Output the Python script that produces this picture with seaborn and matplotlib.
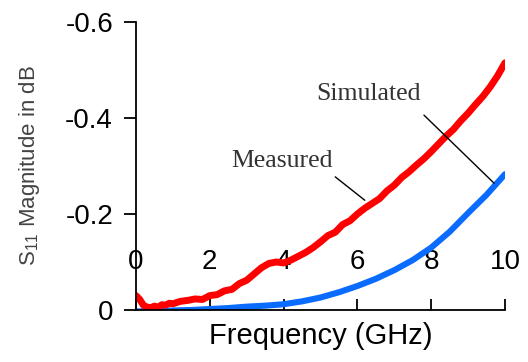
import pandas as pd
import matplotlib.pyplot as plt
import seaborn as sns

# valores (magnitud S11 en dB, eje invertido)
freq_meas = [0.0, 0.1, 0.2, 0.3, 0.4, 0.5, 0.6, 0.7, 0.8, 0.9, 1.0, 1.2, 1.4, 1.6, 1.8,
             2.0, 2.2, 2.4, 2.6, 2.8, 3.0, 3.2, 3.4, 3.6, 3.8, 4.0, 4.2, 4.4, 4.6, 4.8,
             5.0, 5.2, 5.4, 5.6, 5.8, 6.0, 6.2, 6.4, 6.6, 6.8, 7.0, 7.2, 7.4, 7.6, 7.8,
             8.0, 8.2, 8.4, 8.6, 8.8, 9.0, 9.2, 9.4, 9.6, 9.8, 10.0]
s11_meas = [-0.03, -0.022, -0.01, -0.006, -0.005, -0.008, -0.006, -0.011, -0.01, -0.014,
            -0.013, -0.018, -0.02, -0.023, -0.022, -0.03, -0.032, -0.04, -0.043, -0.055,
            -0.062, -0.075, -0.088, -0.097, -0.1, -0.098, -0.104, -0.112, -0.12, -0.13,
            -0.142, -0.155, -0.162, -0.178, -0.186, -0.2, -0.212, -0.222, -0.232, -0.248,
            -0.26, -0.276, -0.288, -0.302, -0.315, -0.33, -0.346, -0.362, -0.376, -0.394,
            -0.41, -0.428, -0.445, -0.465, -0.488, -0.515]

freq_sim = [0, 0.5, 1.0, 1.5, 2.0, 2.5, 3.0, 3.5, 4.0, 4.5, 5.0, 5.5, 6.0, 6.5, 7.0,
            7.5, 8.0, 8.5, 9.0, 9.5, 10.0]
s11_sim = [0.003, 0.002, 0.001, 0.0, -0.002, -0.004, -0.007, -0.009, -0.012, -0.018,
           -0.026, -0.037, -0.05, -0.065, -0.083, -0.104, -0.13, -0.163, -0.202, -0.24,
           -0.283]

x_ticks = [0, 2, 4, 6, 8, 10]
y_ticks = [0, -0.2, -0.4, -0.6]
y_labels = ['0', '-0.2', '-0.4', '-0.6']

sns.set_style('ticks')
plt.rcParams['font.family'] = ['Liberation Sans', 'DejaVu Sans']
plt.rcParams['mathtext.fontset'] = 'custom'
plt.rcParams['mathtext.rm'] = 'Liberation Sans'
plt.rcParams['axes.unicode_minus'] = False
plt.rcParams['text.color'] = 'black'
plt.rcParams['axes.labelcolor'] = 'black'
plt.rcParams['xtick.color'] = 'black'
plt.rcParams['ytick.color'] = 'black'
plt.rcParams['axes.edgecolor'] = 'black'

fig = plt.figure(figsize=(5.28, 3.62), dpi=100)
ax = fig.add_axes([136/528, 1 - 310/362, 369/528, 288/362])

df_meas = pd.DataFrame({'f': freq_meas, 's11': s11_meas})
df_sim = pd.DataFrame({'f': freq_sim, 's11': s11_sim})
sns.lineplot(data=df_sim, x='f', y='s11', color='#0a6cff', linewidth=4.4, ax=ax)
sns.lineplot(data=df_meas, x='f', y='s11', color='#ff0000', linewidth=5.0, ax=ax)

ax.set_xlim(0, 10)
ax.set_ylim(0, -0.6)
ax.set_xticks(x_ticks)
ax.set_yticks(y_ticks)
ax.set_yticklabels(y_labels)
ax.spines['top'].set_visible(False)
ax.spines['right'].set_visible(False)
ax.spines['left'].set_linewidth(1.3)
ax.spines['bottom'].set_linewidth(1.3)
ax.tick_params(axis='y', direction='out', length=8.5, width=1.3, pad=8, labelsize=20)
ax.tick_params(axis='x', direction='in', length=8, width=1.3, pad=-44, labelsize=20)

ax.set_xlabel('Frequency (GHz)', fontsize=21, labelpad=9)
ax.set_ylabel(r'S$_\mathregular{11}$ Magnitude in dB', fontsize=16, color='#444444', labelpad=17)

ax.text(6.3, -0.45, 'Simulated', family='Liberation Serif', fontsize=18.5, color='#333333',
        ha='center', va='center')
ax.text(3.96, -0.31, 'Measured', family='Liberation Serif', fontsize=18.5, color='#333333',
        ha='center', va='center')
ax.annotate('', xy=(9.76, -0.26), xytext=(7.75, -0.41),
            arrowprops=dict(arrowstyle='-', color='black', lw=1))
ax.annotate('', xy=(6.26, -0.225), xytext=(5.34, -0.281),
            arrowprops=dict(arrowstyle='-', color='black', lw=1))

plt.savefig('out.png', dpi=100)
